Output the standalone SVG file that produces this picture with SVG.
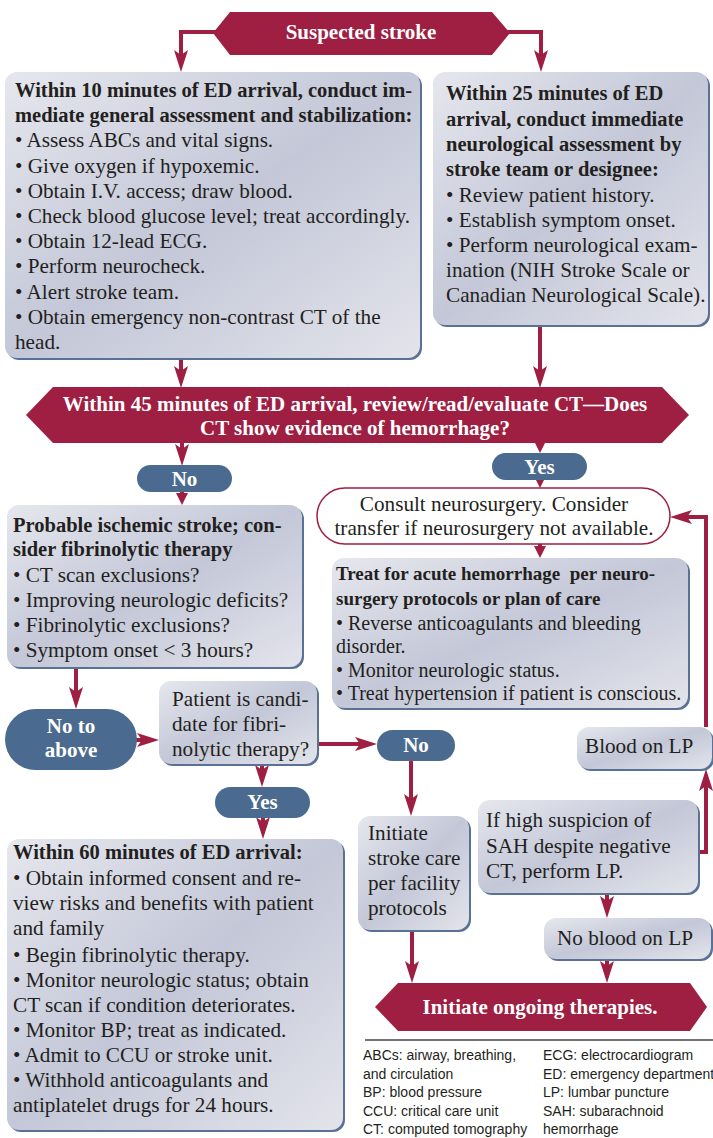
<svg xmlns="http://www.w3.org/2000/svg" width="713" height="1138" viewBox="0 0 713 1138">
<style>
.bx{fill:url(#g)}
.sh{fill:#5a7196}
.ban{fill:#9e1f42}
.pill{fill:#4b6a8f}
.t{font-family:"Liberation Serif","Times New Roman",serif;font-size:21.2px;fill:#231f20}
.b{font-family:"Liberation Serif","Times New Roman",serif;font-size:20.5px;font-weight:bold;fill:#231f20}
.w{font-family:"Liberation Serif","Times New Roman",serif;font-size:21px;font-weight:bold;fill:#fff;text-anchor:middle}
.t2{font-family:"Liberation Serif","Times New Roman",serif;font-size:20px;fill:#231f20}
.b2{font-family:"Liberation Serif","Times New Roman",serif;font-size:19px;font-weight:bold;fill:#231f20}
.lg{font-family:"Liberation Sans",Arial,sans-serif;font-size:14px;fill:#231f20}
.c{fill:none;stroke:#9e1f42;stroke-width:4}
</style>
<defs>
<linearGradient id="g" x1="0" y1="0" x2="1" y2="1">
<stop offset="0" stop-color="#e6e7ee"/>
<stop offset="0.5" stop-color="#c3c7d7"/>
<stop offset="1" stop-color="#e3e4eb"/>
</linearGradient>
<marker id="ah" viewBox="0 0 22 16" markerWidth="22" markerHeight="16" refX="14" refY="8" orient="auto" markerUnits="userSpaceOnUse">
<path d="M0,1 L22,8 L0,15 L5,8 Z" fill="#9e1f42"/>
</marker>
<marker id="as" viewBox="0 0 12 12" markerWidth="12" markerHeight="12" refX="4" refY="6" orient="auto" markerUnits="userSpaceOnUse">
<path d="M0,0 L12,6 L0,12 Z" fill="#9e1f42"/>
</marker>
</defs>
<rect width="713" height="1138" fill="#fff"/>
<g id="connectors">
<path class="c" d="M220,32 H181 V64" marker-end="url(#ah)"/>
<path class="c" d="M503,32 H541 V64" marker-end="url(#ah)"/>
<path class="c" d="M181,358 V380" marker-end="url(#ah)"/>
<path class="c" d="M540,325 V380" marker-end="url(#ah)"/>
<path class="c" d="M182,440 V458" marker-end="url(#ah)"/>
<path class="c" d="M182,490 V497" marker-end="url(#as)"/>
<path class="c" d="M540,440 V445" marker-end="url(#as)"/>
<path class="c" d="M540,476 V480" marker-end="url(#as)"/>
<path class="c" d="M540,540 V550" marker-end="url(#as)"/>
<path class="c" d="M76,667 V701" marker-end="url(#ah)"/>
<path class="c" d="M130,740 H151" marker-end="url(#ah)"/>
<path class="c" d="M317,744 H369" marker-end="url(#ah)"/>
<path class="c" d="M262,764 V779" marker-end="url(#ah)"/>
<path class="c" d="M263,816 V831" marker-end="url(#ah)"/>
<path class="c" d="M411,761 V808" marker-end="url(#ah)"/>
<path class="c" d="M607,893 V910" marker-end="url(#ah)"/>
<path class="c" d="M412,930 V975" marker-end="url(#ah)"/>
<path class="c" d="M607,959 V975" marker-end="url(#ah)"/>
<path class="c" d="M698,852 H706 V777" marker-end="url(#ah)"/>
<path class="c" d="M706,727 V517 H678" marker-end="url(#ah)"/>
</g>
<g id="suspected">
<polygon class="ban" points="213,33 230,12 492,12 510,33 492,55 230,55"/>
<text class="w" x="361" y="39" font-size="20.5">Suspected stroke</text>
</g>
<g id="within10">
<rect class="sh" x="7" y="74" width="415" height="286" rx="12"/>
<rect class="bx" x="5" y="72" width="415" height="286" rx="12"/>
<text class="b" x="15" y="97">Within 10 minutes of ED arrival, conduct im-</text>
<text class="b" x="15" y="122">mediate general assessment and stabilization:</text>
<text class="t" x="15" y="147">• Assess ABCs and vital signs.</text>
<text class="t" x="15" y="173">• Give oxygen if hypoxemic.</text>
<text class="t" x="15" y="198">• Obtain I.V. access; draw blood.</text>
<text class="t" x="15" y="223">• Check blood glucose level; treat accordingly.</text>
<text class="t" x="15" y="248">• Obtain 12-lead ECG.</text>
<text class="t" x="15" y="273">• Perform neurocheck.</text>
<text class="t" x="15" y="299">• Alert stroke team.</text>
<text class="t" x="15" y="324">• Obtain emergency non-contrast CT of the</text>
<text class="t" x="15" y="349">head.</text>
</g>
<g id="within25">
<rect class="sh" x="435" y="74" width="275" height="253" rx="12"/>
<rect class="bx" x="433" y="72" width="275" height="253" rx="12"/>
<text class="b" x="446" y="100">Within 25 minutes of ED</text>
<text class="b" x="446" y="126">arrival, conduct immediate</text>
<text class="b" x="446" y="151">neurological assessment by</text>
<text class="b" x="446" y="176">stroke team or designee:</text>
<text class="t" x="446" y="202">• Review patient history.</text>
<text class="t" x="446" y="227">• Establish symptom onset.</text>
<text class="t" x="446" y="252">• Perform neurological exam-</text>
<text class="t" x="446" y="277">ination (NIH Stroke Scale or</text>
<text class="t" x="446" y="302">Canadian Neurological Scale).</text>
</g>
<g id="within45">
<polygon class="ban" points="26,415 53,387 662,387 689,415 662,443 53,443"/>
<text class="w" x="355" y="411">Within 45 minutes of ED arrival, review/read/evaluate CT—Does</text>
<text class="w" x="355" y="435">CT show evidence of hemorrhage?</text>
</g>
<g id="no1">
<rect class="pill" x="137" y="465" width="95" height="27" rx="13.5"/>
<text class="w" x="184.5" y="486" font-size="20">No</text>
</g>
<g id="yes1">
<rect class="pill" x="492" y="453" width="95" height="27" rx="13.5"/>
<text class="w" x="539.5" y="474" font-size="20">Yes</text>
</g>
<g id="consult">
<rect x="317" y="488" width="353" height="56" rx="28" fill="#fff" stroke="#9e1f42" stroke-width="1.5"/>
<text class="t" x="494" y="511" text-anchor="middle" font-size="21">Consult neurosurgery. Consider</text>
<text class="t" x="494" y="535" text-anchor="middle" font-size="21">transfer if neurosurgery not available.</text>
</g>
<g id="treat">
<rect class="sh" x="334" y="560" width="356" height="150" rx="12"/>
<rect class="bx" x="332" y="558" width="356" height="150" rx="12"/>
<text class="b2" x="336" y="580" xml:space="preserve">Treat for acute hemorrhage  per neuro-</text>
<text class="b2" x="336" y="605">surgery protocols or plan of care</text>
<text class="t2" x="336" y="630">• Reverse anticoagulants and bleeding</text>
<text class="t2" x="336" y="653">disorder.</text>
<text class="t2" x="336" y="677">• Monitor neurologic status.</text>
<text class="t2" x="336" y="700">• Treat hypertension if patient is conscious.</text>
</g>
<g id="probable">
<rect class="sh" x="9" y="507" width="295" height="162" rx="12"/>
<rect class="bx" x="7" y="505" width="295" height="162" rx="12"/>
<text class="b" x="13" y="532">Probable ischemic stroke; con-</text>
<text class="b" x="13" y="556">sider fibrinolytic therapy</text>
<text class="t" x="13" y="582">• CT scan exclusions?</text>
<text class="t" x="13" y="607">• Improving neurologic deficits?</text>
<text class="t" x="13" y="632">• Fibrinolytic exclusions?</text>
<text class="t" x="13" y="657">• Symptom onset &lt; 3 hours?</text>
</g>
<g id="notoabove">
<rect class="pill" x="5" y="709" width="132" height="61" rx="30.5"/>
<text class="w" x="71" y="733">No to</text>
<text class="w" x="71" y="757">above</text>
</g>
<g id="candidate">
<rect class="sh" x="161" y="683" width="158" height="83" rx="12"/>
<rect class="bx" x="159" y="681" width="158" height="83" rx="12"/>
<text class="t" x="172" y="706" font-size="21">Patient is candi-</text>
<text class="t" x="172" y="731" font-size="21">date for fibri-</text>
<text class="t" x="172" y="756" font-size="21">nolytic therapy?</text>
</g>
<g id="no2">
<rect class="pill" x="377" y="730" width="78" height="31" rx="15.5"/>
<text class="w" x="416" y="752" font-size="20">No</text>
</g>
<g id="yes2">
<rect class="pill" x="215" y="787" width="95" height="31" rx="15.5"/>
<text class="w" x="262.5" y="809" font-size="20">Yes</text>
</g>
<g id="strokecare">
<rect class="sh" x="360" y="818" width="111" height="114" rx="12"/>
<rect class="bx" x="358" y="816" width="111" height="114" rx="12"/>
<text class="t" x="368" y="840" font-size="21">Initiate</text>
<text class="t" x="368" y="865" font-size="21">stroke care</text>
<text class="t" x="368" y="890" font-size="21">per facility</text>
<text class="t" x="368" y="915" font-size="21">protocols</text>
</g>
<g id="bloodlp">
<rect class="sh" x="579" y="729" width="135" height="42" rx="12"/>
<rect class="bx" x="577" y="727" width="135" height="42" rx="12"/>
<text class="t" x="585" y="753" font-size="21">Blood on LP</text>
</g>
<g id="highsuspicion">
<rect class="sh" x="480" y="802" width="220" height="93" rx="12"/>
<rect class="bx" x="478" y="800" width="220" height="93" rx="12"/>
<text class="t" x="486" y="827" font-size="21">If high suspicion of</text>
<text class="t" x="486" y="853" font-size="21">SAH despite negative</text>
<text class="t" x="486" y="878" font-size="21">CT, perform LP.</text>
</g>
<g id="nobloodlp">
<rect class="sh" x="546" y="920" width="167" height="41" rx="12"/>
<rect class="bx" x="544" y="918" width="167" height="41" rx="12"/>
<text class="t" x="557" y="945" font-size="21">No blood on LP</text>
</g>
<g id="within60">
<rect class="sh" x="9" y="841" width="336" height="291" rx="12"/>
<rect class="bx" x="7" y="839" width="336" height="291" rx="12"/>
<text class="b" x="13" y="859">Within 60 minutes of ED arrival:</text>
<text class="t" x="13" y="885">• Obtain informed consent and re-</text>
<text class="t" x="13" y="910">view risks and benefits with patient</text>
<text class="t" x="13" y="935">and family</text>
<text class="t" x="13" y="962">• Begin fibrinolytic therapy.</text>
<text class="t" x="13" y="987">• Monitor neurologic status; obtain</text>
<text class="t" x="13" y="1012">CT scan if condition deteriorates.</text>
<text class="t" x="13" y="1037">• Monitor BP; treat as indicated.</text>
<text class="t" x="13" y="1062">• Admit to CCU or stroke unit.</text>
<text class="t" x="13" y="1087">• Withhold anticoagulants and</text>
<text class="t" x="13" y="1112">antiplatelet drugs for 24 hours.</text>
</g>
<g id="ongoing">
<polygon class="ban" points="375,1007 398,983 690,983 707,1007 690,1031 398,1031"/>
<text class="w" x="540" y="1014">Initiate ongoing therapies.</text>
</g>
<g id="legend">
<path d="M365,1040 H713" stroke="#444" stroke-width="1.5" fill="none"/>
<text class="lg" x="363" y="1060">ABCs: airway, breathing,</text>
<text class="lg" x="363" y="1078.5">and circulation</text>
<text class="lg" x="363" y="1097">BP: blood pressure</text>
<text class="lg" x="363" y="1115.5">CCU: critical care unit</text>
<text class="lg" x="363" y="1134">CT: computed tomography</text>
<text class="lg" x="543" y="1060">ECG: electrocardiogram</text>
<text class="lg" x="543" y="1078.5">ED: emergency department</text>
<text class="lg" x="543" y="1097">LP: lumbar puncture</text>
<text class="lg" x="543" y="1115.5">SAH: subarachnoid</text>
<text class="lg" x="543" y="1134">hemorrhage</text>
</g>
</svg>
